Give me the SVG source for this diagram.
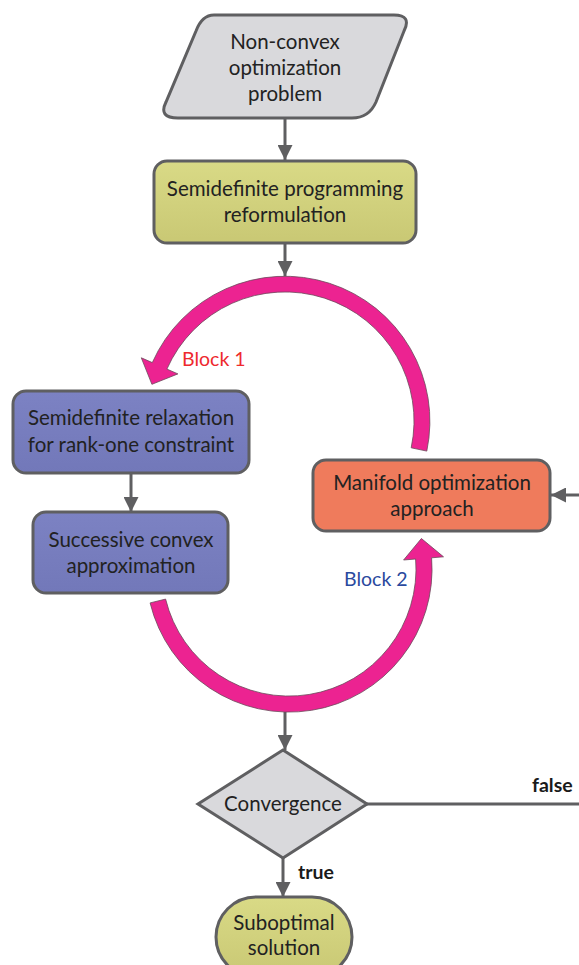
<svg xmlns="http://www.w3.org/2000/svg" width="579" height="965" viewBox="0 0 579 965">
  <defs>
    <marker id="arrow" viewBox="0 0 10 10" refX="10" refY="5" markerWidth="5" markerHeight="5" orient="auto" markerUnits="strokeWidth">
      <path d="M0,0 L10,5 L0,10 Z" fill="#5f5f61"/>
    </marker>
    <linearGradient id="gYellow" x1="0" y1="0" x2="0" y2="1">
      <stop offset="0" stop-color="#d9da86"/>
      <stop offset="1" stop-color="#c9c874"/>
    </linearGradient>
    <linearGradient id="gBlue" x1="0" y1="0" x2="0" y2="1">
      <stop offset="0" stop-color="#7c82c3"/>
      <stop offset="1" stop-color="#7278b9"/>
    </linearGradient>
  </defs>
  <style>
    .shape { stroke: #5f5f61; stroke-width: 3; }
    .lbl { font-family: Lato, "Open Sans", sans-serif; font-size: 20.5px; fill: #222222; text-anchor: middle; }
    .edge { stroke: #5f5f61; stroke-width: 3; fill: none; }
    .loop { fill: #ec2391; stroke: #6b4a5a; stroke-width: 0.8; }
    .tag { font-family: Lato, "Open Sans", sans-serif; font-size: 19.5px; }
    .bold { font-family: Lato, "Open Sans", sans-serif; font-size: 19.5px; font-weight: bold; fill: #1a1a1a; }
  </style>

  <!-- connectors -->
  <g id="connectors">
    <line class="edge" x1="285" y1="118" x2="285" y2="160" marker-end="url(#arrow)"/>
    <line class="edge" x1="285" y1="243" x2="285" y2="276" marker-end="url(#arrow)"/>
    <line class="edge" x1="131" y1="473" x2="131" y2="512" marker-end="url(#arrow)"/>
    <line class="edge" x1="579" y1="495" x2="551" y2="495" marker-end="url(#arrow)"/>
    <line class="edge" x1="285" y1="712" x2="285" y2="750" marker-end="url(#arrow)"/>
    <line class="edge" x1="367" y1="804" x2="579" y2="804"/>
    <line class="edge" x1="283" y1="858" x2="283" y2="897" marker-end="url(#arrow)"/>
    <!-- Block 1 loop arrow -->
    <path class="loop" d="M426.8,451.1 A145,145 0 0 0 152.3,362.6 L141.3,357.8 L151.9,384.3 L177.9,373.9 L166.9,369.1 A129,129 0 0 1 411.2,447.8 Z"/>
    <!-- Block 2 loop arrow -->
    <path class="loop" d="M150.1,602.9 A143,143 0 0 0 431.6,557.8 L443.5,556.8 L421.4,538.5 L403.6,560.0 L415.6,559.0 A127,127 0 0 1 165.6,599.1 Z"/>
    <text class="tag" x="182" y="366" fill="#ee2a2e">Block 1</text>
    <text class="tag" x="344" y="586" fill="#2a4a9e">Block 2</text>
    <text class="bold" x="532" y="792">false</text>
    <text class="bold" x="298" y="879">true</text>
  </g>

  <g id="problem">
    <path class="shape" fill="#d9d9dc" d="M214,15 L394,15 Q412,15 404,31 L376,102 Q369,118 352,118 L178,118 Q158,118 166,102 L196,31 Q202,15 214,15 Z"/>
    <text class="lbl" x="285" y="49">Non-convex</text>
    <text class="lbl" x="285" y="75">optimization</text>
    <text class="lbl" x="285" y="101">problem</text>
  </g>

  <g id="sdp">
    <rect class="shape" x="154" y="161" width="262" height="82" rx="13" fill="url(#gYellow)"/>
    <text class="lbl" x="285" y="196">Semidefinite programming</text>
    <text class="lbl" x="285" y="222">reformulation</text>
  </g>

  <g id="relaxation">
    <rect class="shape" x="13" y="391" width="236" height="82" rx="13" fill="url(#gBlue)"/>
    <text class="lbl" x="131" y="425">Semidefinite relaxation</text>
    <text class="lbl" x="131" y="452">for rank-one constraint</text>
  </g>

  <g id="sca">
    <rect class="shape" x="33" y="512" width="195" height="81" rx="13" fill="url(#gBlue)"/>
    <text class="lbl" x="131" y="547">Successive convex</text>
    <text class="lbl" x="131" y="573">approximation</text>
  </g>

  <g id="manifold">
    <rect class="shape" x="313" y="460" width="237" height="71" rx="13" fill="#ef7b5c"/>
    <text class="lbl" x="432" y="490">Manifold optimization</text>
    <text class="lbl" x="432" y="516">approach</text>
  </g>

  <g id="convergence">
    <path class="shape" fill="#d9d9dc" d="M283,750 L367,804 L283,858 L198,804 Z"/>
    <text class="lbl" x="283" y="811">Convergence</text>
  </g>

  <g id="solution">
    <rect class="shape" x="216" y="897" width="136" height="80" rx="40" fill="url(#gYellow)"/>
    <text class="lbl" x="284" y="930">Suboptimal</text>
    <text class="lbl" x="284" y="955">solution</text>
  </g>
</svg>
